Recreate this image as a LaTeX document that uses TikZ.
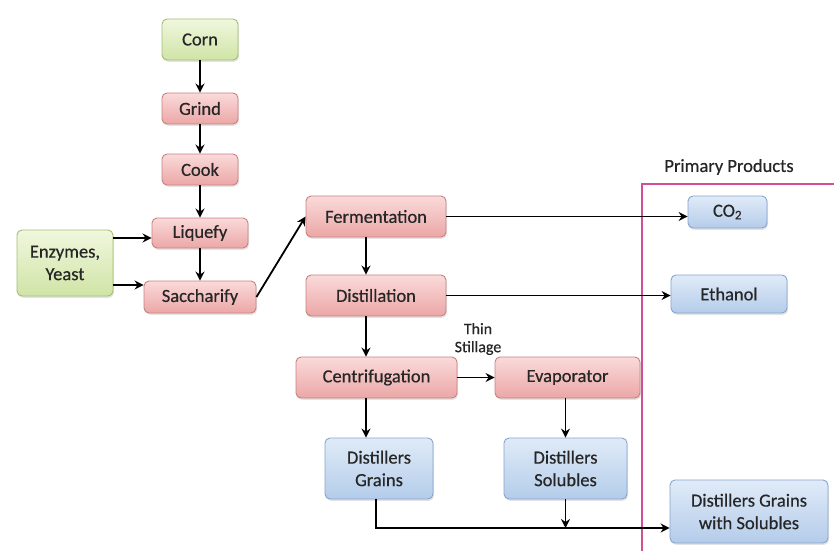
\documentclass[tikz,border=0pt]{standalone}
\usepackage{fontspec}
\setmainfont{Carlito}
\newfontfamily\boxfont{Carlito}[FakeBold=0.5]
\usetikzlibrary{arrows.meta,shadows}
\definecolor{gT}{HTML}{F0F7DE}
\definecolor{gB}{HTML}{D0E4A6}
\definecolor{gL}{HTML}{A3BE72}
\definecolor{pT}{HTML}{FADADA}
\definecolor{pB}{HTML}{EBA7A6}
\definecolor{pL}{HTML}{C9817F}
\definecolor{bT}{HTML}{E0EBF8}
\definecolor{bB}{HTML}{B4CCEA}
\definecolor{bL}{HTML}{86A4CB}
\definecolor{frame}{HTML}{D14F96}
\definecolor{txt}{HTML}{262626}
\begin{document}
\begin{tikzpicture}[x=1pt,y=-1pt,
  box/.style={draw, line width=0.9pt, rounded corners=5pt, inner sep=0pt, align=center,
    font=\boxfont\fontsize{18.5}{22.5}\selectfont, text=txt,
    drop shadow={opacity=0.22, shadow xshift=1pt, shadow yshift=-1.8pt}},
  gbox/.style={box, draw=gL, top color=gT, bottom color=gB},
  pbox/.style={box, draw=pL, top color=pT, bottom color=pB},
  bbox/.style={box, draw=bL, top color=bT, bottom color=bB},
  lbl/.style={align=center, inner sep=0pt, text=txt},
  arr/.style={-{Stealth[length=9pt,width=9pt,inset=3pt]}, line width=1.8pt},
]
\useasboundingbox (0,0) rectangle (834,551);

% left column
\node[gbox, minimum width=76pt, minimum height=41pt] (corn) at (200,39.5) {Corn};
\node[pbox, minimum width=76pt, minimum height=31pt] (grind) at (200,108.5) {Grind};
\node[pbox, minimum width=76pt, minimum height=31pt] (cook) at (200,169.5) {Cook};
\node[pbox, minimum width=96pt, minimum height=30pt] (liq) at (200,233) {Liquefy};
\node[pbox, minimum width=112pt, minimum height=32pt] (sac) at (200,297) {Saccharify};
\node[gbox, minimum width=96pt, minimum height=66pt] (enz) at (65,263) {Enzymes,\\Yeast};

% middle
\node[pbox, minimum width=140pt, minimum height=41pt] (ferm) at (376,216.5) {Fermentation};
\node[pbox, minimum width=140pt, minimum height=41pt] (dist) at (376,295.5) {Distillation};
\node[pbox, minimum width=161pt, minimum height=41pt] (cen) at (376.5,377.5) {Centrifugation};
\node[pbox, minimum width=145pt, minimum height=41pt] (evap) at (567.5,377.5) {Evaporator};
\node[bbox, minimum width=108pt, minimum height=61pt] (dg) at (379,468.5) {Distillers\\Grains};
\node[bbox, minimum width=123pt, minimum height=61pt] (ds) at (565.5,468.5) {Distillers\\Solubles};
\node[lbl, font=\boxfont\fontsize{16}{18}\selectfont] (ts) at (478,339) {Thin\\Stillage};

% products
\node[bbox, minimum width=79pt, minimum height=32pt] (co2) at (727.5,212) {CO\textsubscript{2}};
\node[bbox, minimum width=116pt, minimum height=38pt] (eth) at (729,294) {Ethanol};
\node[bbox, minimum width=158pt, minimum height=63pt] (dgs) at (749,511.5) {Distillers Grains\\with Solubles};
\node[lbl, font=\boxfont\fontsize{18.5}{22}\selectfont] (pp) at (729,167) {Primary Products};
\coordinate (fb) at (642,551);
\coordinate (ft) at (642,184);
\coordinate (fr) at (834,184);
\draw[frame, line width=2.8pt] (fb) -- (ft) -- (fr);

% helper coordinates
\coordinate (vx) at (366,0);
\coordinate (j) at (376,528);

% connectors
\draw[arr] (corn) -- (grind);
\draw[arr] (grind) -- (cook);
\draw[arr] (cook) -- (liq);
\draw[arr] (liq) -- (sac);
\draw[arr] ([yshift=25pt]enz.east) -- ([yshift=25pt]enz.east -| liq.west);
\draw[arr] ([yshift=-22pt]enz.east) -- ([yshift=-22pt]enz.east -| sac.west);
\draw[arr] (sac.east) -- (ferm.west);
\draw[arr] (ferm.east) -- (ferm.east -| co2.west);
\draw[arr] (dist.east) -- (dist.east -| eth.west);
\draw[arr] (ferm.south -| vx) -- (dist.north -| vx);
\draw[arr] (dist.south -| vx) -- (cen.north -| vx);
\draw[arr] (cen.south -| vx) -- (dg.north -| vx);
\draw[arr] (cen.east) -- (evap.west);
\draw[arr] (evap.south -| ds.north) -- (ds.north);
\draw[arr] (dg.south -| j) -- (j) -- (j -| dgs.west);
\draw[arr] (ds.south) -- (ds.south |- j);
\end{tikzpicture}
\end{document}
